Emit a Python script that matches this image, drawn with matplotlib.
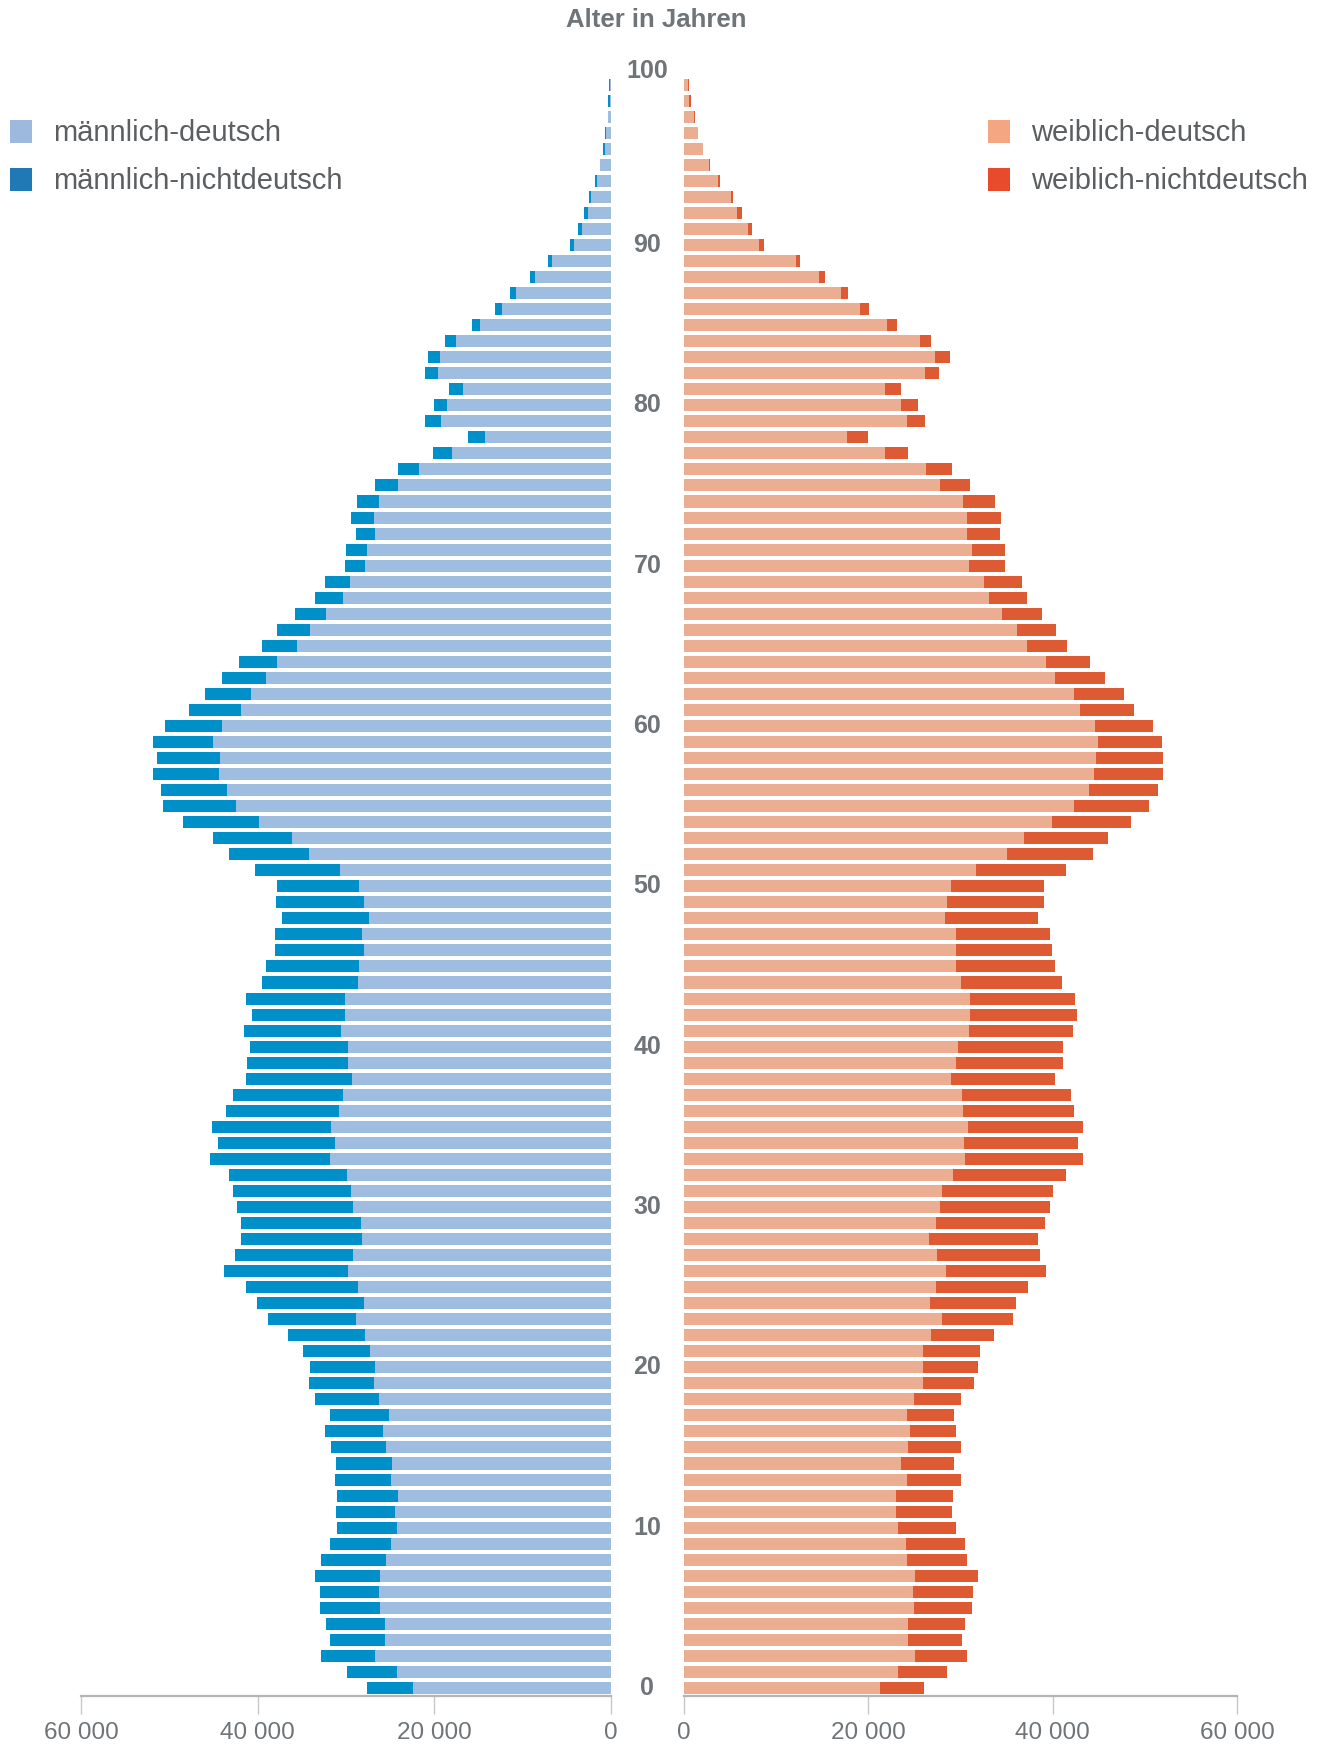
import numpy as np
import matplotlib
matplotlib.use("Agg")
from matplotlib import pyplot as plt
from matplotlib import transforms
from matplotlib.patches import Rectangle

plt.rcParams['font.family'] = ['Liberation Sans', 'DejaVu Sans']

# Alter 0..100
ages = np.arange(0, 101)

maennlich_deutsch = [
    22430, 24250, 26740, 25590, 25590, 26170, 26260, 26170, 25500, 24920,
    24250, 24440, 24150, 24920, 24830, 25500, 25780, 25110, 26260, 26840,
    26650, 27220, 27890, 28850, 27990, 28660, 29810, 29230, 28180, 28280,
    29140, 29430, 29910, 31820, 31250, 31730, 30770, 30290, 29330, 29710,
    29710, 30580, 30100, 30100, 28660, 28560, 27990, 28180, 27410, 27990,
    28470, 30670, 34220, 36140, 39870, 42460, 43520, 44380, 44280, 45050,
    44000, 41890, 40740, 39110, 37860, 35560, 34120, 32200, 30380, 29520,
    27800, 27600, 26650, 26840, 26260, 24060, 21660, 17920, 14190, 19270,
    18500, 16770, 19550, 19360, 17540, 14760, 12270, 10735, 8530, 6610,
    4120, 3260, 2590, 2200, 1530, 1150, 670, 480, 250, 100,
    80]
maennlich_nichtdeutsch = [
    5180, 5650, 6130, 6230, 6610, 6710, 6710, 7280, 7280, 6900,
    6810, 6710, 6810, 6330, 6330, 6230, 6610, 6710, 7190, 7380,
    7380, 7670, 8720, 9970, 12080, 12650, 13990, 13320, 13710, 13610,
    13230, 13420, 13320, 13610, 13230, 13420, 12840, 12560, 11980, 11500,
    11210, 11020, 10540, 11210, 10830, 10450, 10060, 9870, 9870, 9970,
    9390, 9585, 9010, 8910, 8630, 8240, 7480, 7480, 7090, 6810,
    6520, 5940, 5180, 4980, 4310, 3930, 3740, 3550, 3160, 2880,
    2300, 2400, 2200, 2590, 2490, 2590, 2490, 2200, 1920, 1725,
    1530, 1530, 1440, 1340, 1250, 960, 860, 670, 575, 480,
    480, 480, 480, 290, 190, 100, 190, 100, 100, 150,
    150]
weiblich_deutsch = [
    21280, 23210, 25050, 24310, 24310, 24950, 24860, 25050, 24220, 24040,
    23210, 23030, 23030, 24130, 23580, 24310, 24490, 24220, 24950, 25870,
    25870, 25960, 26790, 27980, 26700, 27340, 28440, 27430, 26600, 27340,
    27800, 27980, 29170, 30460, 30370, 30820, 30270, 30180, 28900, 29540,
    29720, 30920, 31010, 31010, 30000, 29540, 29450, 29450, 28260, 28530,
    28990, 31650, 35040, 36880, 39910, 42290, 43940, 44490, 44680, 44950,
    44590, 42930, 42290, 40270, 39260, 37250, 36150, 34490, 33030, 32480,
    30920, 31190, 30730, 30730, 30270, 27800, 26240, 21830, 17710, 24130,
    23580, 21830, 26150, 27250, 25600, 22020, 19080, 16970, 14680, 12110,
    8165, 6880, 5780, 5050, 3670, 2660, 2020, 1470, 1100, 550,
    370]
weiblich_nichtdeutsch = [
    4770, 5320, 5690, 5870, 6150, 6330, 6510, 6880, 6510, 6420,
    6330, 6050, 6150, 5870, 5690, 5690, 5050, 5050, 5050, 5600,
    6050, 6150, 6790, 7710, 9270, 10000, 10830, 11190, 11830, 11830,
    11930, 12020, 12290, 12840, 12380, 12480, 12020, 11830, 11380, 11560,
    11380, 11280, 11650, 11380, 11010, 10730, 10460, 10270, 10180, 10460,
    10000, 9815, 9360, 9080, 8620, 8165, 7430, 7430, 7250, 6880,
    6330, 5870, 5410, 5410, 4770, 4310, 4220, 4310, 4130, 4130,
    3850, 3670, 3490, 3670, 3490, 3210, 2840, 2480, 2200, 2020,
    1740, 1650, 1470, 1560, 1190, 1100, 1010, 825, 640, 460,
    460, 460, 460, 275, 180, 180, 80, 80, 100, 250,
    180]

xticks = [0, 20000, 40000, 60000]
xticklabels = ['0', '20 000', '40 000', '60 000']
age_labels = [0, 10, 20, 30, 40, 50, 60, 70, 80, 90, 100]

c_m_de = '#9ebde0'
c_m_nd = '#0090c9'
c_f_de = '#ebae93'
c_f_nd = '#de5a32'
grey = '#6f7478'

W, H = 1327, 1744
fig = plt.figure(figsize=(W / 100, H / 100), dpi=100)

bottom = 1 - 1696 / H
height = 1619.4 / H
ax_l = fig.add_axes([81.2 / W, bottom, 529.4 / W, height])
ax_r = fig.add_axes([684.1 / W, bottom, 553.1 / W, height])

ax_l.barh(ages, maennlich_deutsch, height=0.75, color=c_m_de, linewidth=0)
ax_l.barh(ages, maennlich_nichtdeutsch, left=maennlich_deutsch, height=0.75, color=c_m_nd, linewidth=0)
ax_r.barh(ages, weiblich_deutsch, height=0.75, color=c_f_de, linewidth=0)
ax_r.barh(ages, weiblich_nichtdeutsch, left=weiblich_deutsch, height=0.75, color=c_f_nd, linewidth=0)

ax_l.set_xlim(60000, 0)
ax_r.set_xlim(0, 60000)

for ax in (ax_l, ax_r):
    ax.set_ylim(-0.5, 100.5)
    ax.set_yticks([])
    for s in ('top', 'left', 'right'):
        ax.spines[s].set_visible(False)
    ax.spines['bottom'].set_color('#b4b4b4')
    ax.spines['bottom'].set_linewidth(1.6)
    ax.set_xticks(xticks)
    ax.set_xticklabels(xticklabels)
    ax.tick_params(axis='x', direction='out', length=13, width=1, color='#c8c8c8',
                   labelsize=17.5, labelcolor=grey, pad=6)
    ax.set_facecolor('none')

# Alterslabels in der Mitte
tr = transforms.blended_transform_factory(fig.transFigure, ax_r.transData)
for a in age_labels:
    y = a + 0.85 if a == 100 else a
    fig.text(647.4 / W, y, str(a), transform=tr, ha='center', va='center',
             fontsize=18, fontweight='bold', color=grey)

fig.text(656 / W, 1 - 20 / H, 'Alter in Jahren', ha='center', va='center',
         fontsize=18.5, fontweight='bold', color=grey)

# Legende
legend = [
    (10, 132, '#9db9dd', 'männlich-deutsch'),
    (10, 180, '#2079b4', 'männlich-nichtdeutsch'),
    (988, 132, '#f4a582', 'weiblich-deutsch'),
    (988, 180, '#e84a2c', 'weiblich-nichtdeutsch'),
]
for x, y, c, label in legend:
    fig.add_artist(Rectangle((x / W, 1 - (y + 11.5) / H), 22 / W, 23 / H,
                             transform=fig.transFigure, color=c, linewidth=0))
    fig.text((x + 43.5) / W, 1 - (y + 1) / H, label, ha='left', va='center',
             fontsize=21, color='#5b5f62')

plt.savefig("out.png", dpi=100)
